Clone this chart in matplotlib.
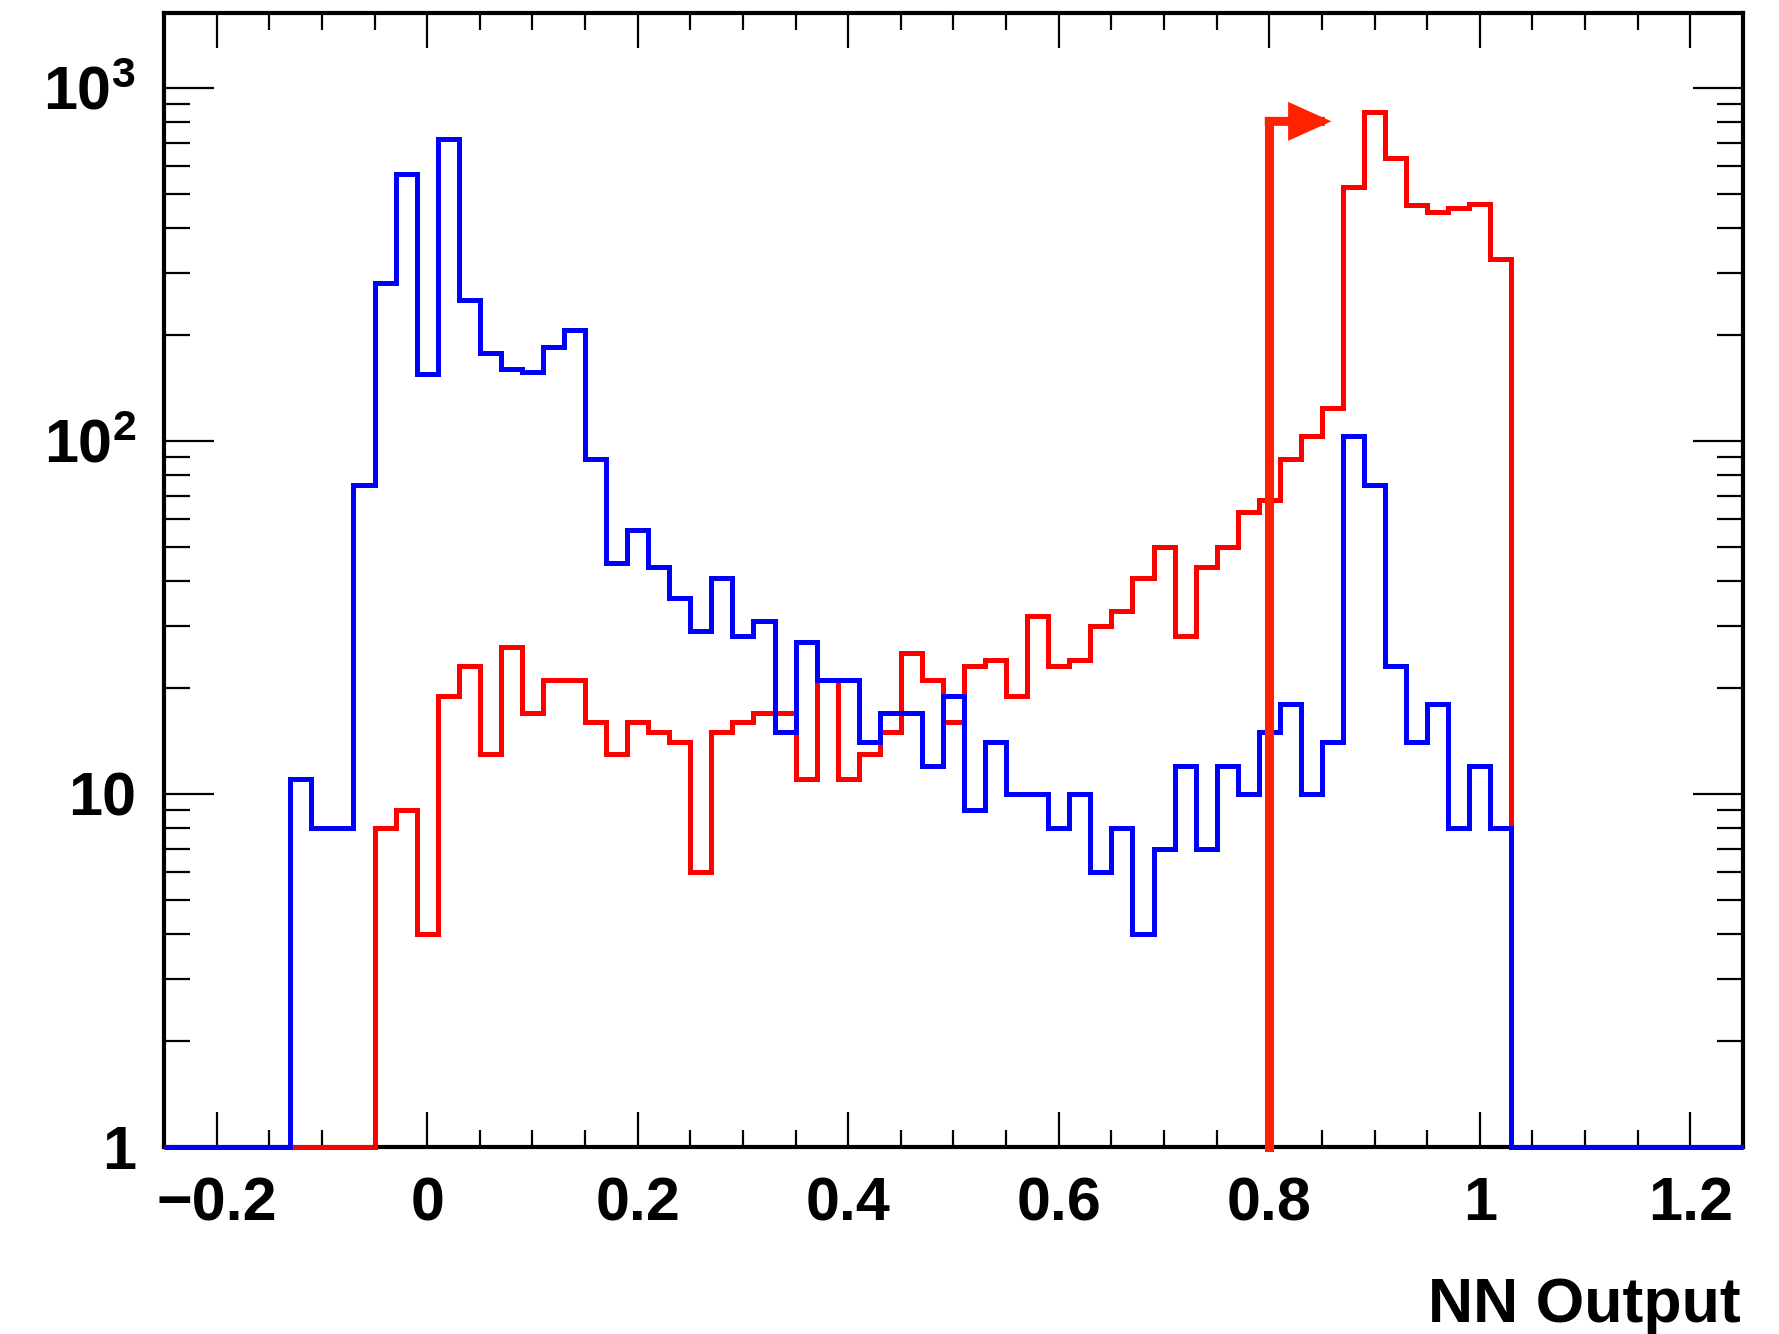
import numpy as np
import matplotlib
matplotlib.use("Agg")
import matplotlib.pyplot as plt
from matplotlib.ticker import FixedLocator, MultipleLocator, NullFormatter, LogLocator, FuncFormatter

# ---------------- data ----------------
bin_lo = -0.25
bin_hi = 1.25
n_bins = 75

blue_start = -0.13
blue_counts = [11, 8, 8, 75, 280, 570, 155, 715, 250, 177,
               160, 157, 185, 206, 89, 45, 56, 44, 36, 29,
               41, 28, 31, 15, 27, 21, 21, 14, 17, 17,
               12, 19, 9, 14, 10, 10, 8, 10, 6, 8,
               4, 7, 12, 7, 12, 10, 15, 18, 10, 14,
               103, 75, 23, 14, 18, 8, 12, 8]

red_start = -0.05
red_counts = [8, 9, 4, 19, 23, 13, 26, 17, 21, 21,
              16, 13, 16, 15, 14, 6, 15, 16, 17, 17,
              11, 21, 11, 13, 15, 25, 21, 16, 23, 24,
              19, 32, 23, 24, 30, 33, 41, 50, 28, 44,
              50, 63, 68, 89, 103, 124, 525, 853, 632, 466,
              446, 456, 470, 327]

cut_value = 0.8
cut_height = 804
arrow_tip = 0.859

x_ticks = [-0.2, 0.0, 0.2, 0.4, 0.6, 0.8, 1.0, 1.2]
y_ticks = [1, 10, 100, 1000]
y_tick_labels = ["1", "10", r"$\mathbf{10^{2}}$", r"$\mathbf{10^{3}}$"]
x_title = "NN Output"

# ---------------- build full histograms ----------------
edges = np.linspace(bin_lo, bin_hi, n_bins + 1)
width = (bin_hi - bin_lo) / n_bins


def full_hist(start, counts):
    h = np.zeros(n_bins)
    i0 = int(round((start - bin_lo) / width))
    h[i0:i0 + len(counts)] = counts
    return h


blue = full_hist(blue_start, blue_counts)
red = full_hist(red_start, red_counts)

ymin, ymax = 1.0, 1630.0

plt.rcParams["font.family"] = ["Liberation Sans", "DejaVu Sans"]
plt.rcParams["font.weight"] = "bold"
plt.rcParams["mathtext.fontset"] = "custom"
plt.rcParams["mathtext.bf"] = "Liberation Sans:bold"
plt.rcParams["mathtext.rm"] = "Liberation Sans:bold"
plt.rcParams["axes.unicode_minus"] = True

fig = plt.figure(figsize=(17.79, 13.34), dpi=100)
ax = fig.add_axes([164 / 1779, 1 - 1147 / 1334, (1743 - 164) / 1779, (1147 - 13) / 1334])

# zero bins are drawn on the bottom of the frame (ROOT style)
red_plot = np.where(red > 0, red, ymin)
blue_plot = np.where(blue > 0, blue, ymin)

ax.stairs(red_plot, edges, baseline=None, color="#ff0000", lw=3.6, zorder=3, clip_on=False)
ax.stairs(blue_plot, edges, baseline=None, color="#0000ff", lw=3.6, zorder=4, clip_on=False)

# cut line with arrow
cut_col = "#ff2200"
ax.plot([cut_value, cut_value], [ymin, cut_height], color=cut_col, lw=6.5,
        solid_capstyle="projecting", zorder=5, clip_on=False)
ax.annotate("", xy=(arrow_tip, cut_height), xytext=(cut_value, cut_height),
            arrowprops=dict(arrowstyle="-|>,head_length=1.0,head_width=0.45",
                            mutation_scale=20, color=cut_col, lw=6.5,
                            shrinkA=0, shrinkB=0, joinstyle="miter",
                            capstyle="projecting"),
            zorder=5)

ax.set_xlim(bin_lo, bin_hi)
ax.set_yscale("log")
ax.set_ylim(ymin, ymax)

ax.xaxis.set_major_locator(FixedLocator(x_ticks))
ax.xaxis.set_minor_locator(MultipleLocator(0.05))


def xfmt(v, pos):
    s = "%g" % round(v, 3)
    return s.replace("-", "\u2212")


def yfmt(v, pos):
    k = int(round(v))
    return y_tick_labels[y_ticks.index(k)] if k in y_ticks else ""


ax.xaxis.set_major_formatter(FuncFormatter(xfmt))
ax.yaxis.set_major_locator(FixedLocator(y_ticks))
ax.yaxis.set_major_formatter(FuncFormatter(yfmt))
ax.yaxis.set_minor_locator(LogLocator(base=10, subs=np.arange(2, 10), numticks=30))
ax.yaxis.set_minor_formatter(NullFormatter())

ax.tick_params(which="both", direction="in", top=True, right=True, width=1.6, color="black")
ax.tick_params(axis="x", which="major", length=25, pad=21, labelsize=44)
ax.tick_params(axis="x", which="minor", length=12)
ax.tick_params(axis="y", which="major", length=36, pad=20, labelsize=44)
ax.tick_params(axis="y", which="minor", length=19)

for s in ax.spines.values():
    s.set_linewidth(3)
    s.set_color("black")

fig.text(1741 / 1779, 1 - 1322 / 1334, x_title, ha="right", va="baseline",
         fontsize=45, fontweight="bold")

fig.savefig("out.png", dpi=100, facecolor="white")
